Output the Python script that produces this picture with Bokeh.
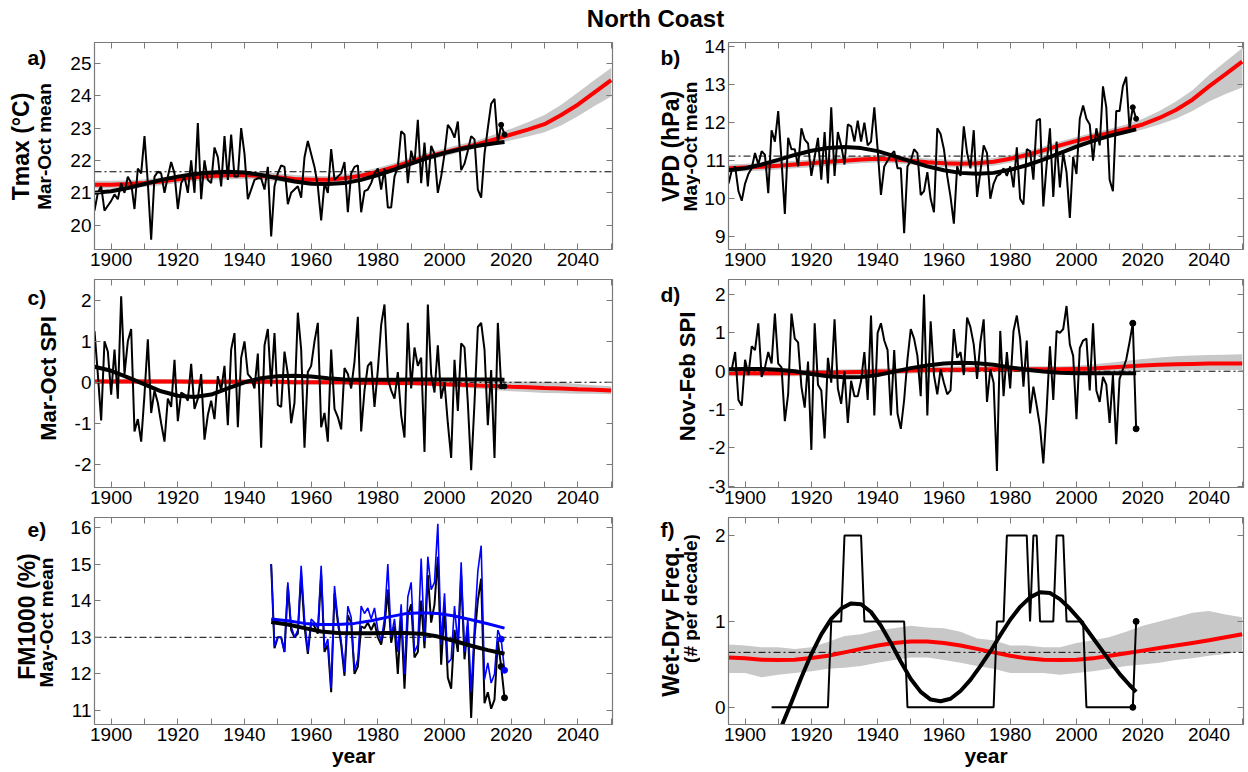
from bokeh.plotting import figure
from bokeh.models import Range1d, FixedTicker, LinearAxis, Span, Label
from bokeh.layouts import column, row
from bokeh.embed import file_html
from bokeh.resources import INLINE
import math

FONT = "Liberation Sans"
FRAME = "#7a7a7a"
GREY = "#c8c8c8"
RED = "#ff0000"
BLUE = "#0000ff"

X_START, X_END = 1895, 2050.4
x_ticks = list(range(1900, 2051, 10))
x_tick_labels = {t: (str(t) if (t % 20 == 0 and t < 2050) else "") for t in x_ticks}

# ---------------- annual series ----------------
years = list(range(1895, 2019))
tmax = [20.45, 21.0, 21.2, 20.45, 20.6, 20.75, 20.95, 20.8, 21.3, 21.0,
        21.5, 21.3, 20.5, 21.75, 21.6, 22.75, 21.3, 19.55, 21.5, 21.65,
        21.6, 21.0, 21.5, 21.95, 21.6, 20.5, 21.3, 21.5, 21.0, 22.0,
        21.0, 23.15, 20.8, 22.0, 21.4, 21.3, 22.4, 22.1, 21.2, 22.75,
        21.4, 22.8, 21.5, 21.5, 23.0, 22.2, 20.8, 21.1, 21.4, 21.45,
        21.45, 21.1, 21.8, 19.65, 21.2, 21.6, 21.85, 21.8, 20.65, 21.0,
        21.1, 21.2, 20.85, 22.1, 22.6, 22.2, 21.8, 21.2, 20.15, 21.3,
        21.0, 22.35, 21.4, 21.5, 21.6, 21.95, 20.4, 21.6, 21.8, 21.85,
        20.4, 21.05, 21.1, 21.3, 21.6, 21.75, 21.1, 21.75, 20.55, 20.55,
        21.5, 21.8, 22.9, 22.8, 21.3, 22.3, 21.9, 23.25, 21.3, 22.55,
        21.2, 22.45, 22.2, 21.0, 21.5, 22.2, 23.1, 22.95, 22.7, 23.2,
        21.7, 21.9, 22.3, 22.75, 22.65, 21.1, 20.85, 22.2, 23.0, 23.75,
        23.9, 22.55, 23.1, 22.8]
vpd = [10.4, 10.75, 10.85, 10.2, 9.95, 10.4, 10.65, 10.8, 11.2, 10.9,
       11.25, 11.15, 10.15, 11.8, 11.5, 12.3, 11.0, 9.6, 11.6, 11.3,
       11.3, 10.85, 11.85, 11.55, 11.45, 10.6, 11.1, 11.6, 10.5, 11.75,
       10.4, 12.4, 10.6, 11.75, 11.4, 10.9, 11.95, 11.9, 11.5, 12.05,
       11.5, 12.0, 11.4, 11.5, 12.4, 11.3, 10.1, 10.85, 11.0, 11.15,
       11.25, 10.8, 10.8, 9.1, 10.85, 11.0, 11.3, 11.2, 10.1, 10.2,
       10.7, 10.0, 9.65, 11.85, 11.7, 11.3, 10.6, 10.05, 9.35, 10.85,
       10.6, 11.9, 11.2, 10.8, 11.8, 10.05, 10.7, 11.4, 11.2, 10.0,
       10.4, 10.6, 10.65, 10.8, 10.6, 10.85, 10.3, 11.35, 10.0, 9.85,
       11.3, 11.25, 10.5, 12.05, 12.1, 9.8, 10.9, 11.85, 10.05, 11.5,
       10.3, 11.2, 10.7, 9.5, 11.1, 10.65, 12.1, 12.45, 12.1, 11.95,
       11.0, 11.85, 11.4, 12.95, 12.4, 10.5, 10.2, 12.3, 12.3, 12.95,
       13.2, 11.85, 12.4, 12.1]
spi_maroct = [1.25, 0.2, -0.93, 1.0, 0.75, -0.3, 0.8, -0.4, 2.1, 0.2,
              1.0, 1.3, -1.2, -0.9, -1.45, -0.3, 1.05, -0.75, -0.2, -0.5,
              -1.0, -1.45, -0.4, -0.6, 0.55, -0.95, -0.25, -0.3, -0.45, 0.45,
              -0.65, -0.4, 0.2, -1.4, -0.8, -0.45, -0.9, 0.15, -0.2, 0.4,
              -1.05, 0.8, 1.2, -1.1, 0.6, 1.0, 0.2, 0.1, -0.15, 0.7,
              -1.6, 0.9, 1.3, -0.1, 1.2, -0.55, -0.6, 0.75, 0.2, -1.0,
              -0.5, 1.7, 0.8, -1.6, 0.25, 0.4, 1.0, 1.45, -1.1, -0.75,
              -1.45, 0.8, -0.65, -0.85, -1.15, 0.35, 0.2, -0.15, 0.5, 1.6,
              -1.2, -0.2, 0.4, 0.5, -0.6, 0.3, 1.4, 1.9, 0.1, -0.2,
              -0.4, 0.25, -0.8, -1.35, 1.45, -0.15, 0.85, 0.4, 0.6, -1.7,
              1.9, 0.2, -0.25, 0.9, -0.4, 0.0, -1.0, -1.85, 0.55, -0.7,
              0.95, 0.85, -0.5, -2.15, -0.5, 1.35, 1.45, 0.8, -1.05, 0.3,
              -1.85, 1.45, -0.1, -0.1]
spi_novfeb = [0.0, 0.05, 0.5, -0.75, -0.9, 0.3, -0.1, 0.65, 0.55, 1.25,
              -0.15, 0.1, 0.5, 0.2, 1.5, 0.2, 0.1, -1.3, -0.6, 1.5,
              0.85, 0.75, -0.4, -0.95, 0.25, -2.05, 1.25, -0.35, -0.5, -1.75,
              0.35, -0.3, 1.35, -0.45, -0.85, 0.0, -1.35, -0.25, -0.65, -0.65,
              -0.25, 0.5, -0.75, 1.45, -1.15, 1.0, 1.25, 0.8, 0.55, -1.15,
              0.55, -1.1, -1.5, -0.75, 0.3, 1.1, 0.85, 0.4, -0.65, 2.0,
              -1.15, 1.3, -0.1, -0.6, 0.05, -0.3, -0.6, -0.5, 1.1, 0.35,
              0.5, -0.1, 1.4, 1.15, 0.7, -0.2, 0.75, 1.35, -0.8, 0.05,
              -0.3, -2.6, 1.05, -0.65, 0.5, -0.45, 1.05, 1.45, 0.85, -0.4,
              0.8, -1.1, -0.4, -0.9, -1.45, -2.4, -1.0, 0.65, -0.75, 1.05,
              1.0, 1.1, 1.7, 0.7, 0.4, -1.25, 0.6, 0.8, 0.85, -0.5,
              1.25, -0.5, -0.8, -0.15, -0.35, -1.35, -0.1, -1.9, -0.2, 0.05,
              0.3, 0.75, 1.25, -1.5]

fm_years = list(range(1948, 2019))
fm1000_black = [15.0, 12.7, 13.0, 13.0, 12.6, 14.4, 13.2, 13.0, 13.1, 14.7,
                13.3, 12.55, 13.4, 13.3, 13.1, 14.7, 12.6, 12.8, 11.5, 14.2,
                13.4, 12.8, 11.95, 13.6, 13.4, 12.0, 12.2, 13.3, 13.25, 13.4,
                13.2, 13.4, 13.0, 12.8, 13.3, 14.3, 12.85, 13.3, 12.0, 13.6,
                11.6, 13.6, 13.9, 12.45, 12.6, 14.0, 12.7, 14.7, 13.4, 13.9,
                15.2, 12.25, 13.8, 11.9, 11.6, 13.2, 12.6, 14.7, 12.4, 13.3,
                10.8, 13.0, 14.0, 14.6, 11.2, 11.5, 11.05, 11.3, 12.9, 12.2,
                11.35]
fm1000_blue = [15.0, 12.75, 13.0, 13.0, 12.6, 14.5, 13.3, 13.0, 13.2, 14.95,
               13.5, 12.6, 13.5, 13.4, 13.25, 14.95, 12.7, 12.95, 11.6, 14.4,
               13.5, 12.9, 12.05, 13.85, 13.55, 12.1, 12.4, 13.85, 13.65, 13.8,
               13.5, 13.8, 13.2, 12.9, 13.5, 15.0, 13.0, 13.5, 12.6, 13.9,
               12.0, 14.1, 14.5, 12.6, 12.8, 15.15, 12.9, 15.2, 14.3, 14.5,
               16.1, 12.8, 14.2, 12.3, 12.4, 13.85, 12.8, 15.05, 12.6, 13.5,
               11.5, 13.3, 14.8, 15.5, 11.85, 12.3, 11.75, 12.0, 13.2, 12.95,
               12.1]

wd_years = list(range(1908, 2019))
wetdry = [0, 0, 0, 0, 0, 0, 0, 0, 0, 0, 0, 0, 0, 0, 0, 0, 0, 0,
          1, 1, 1, 1,
          2, 2, 2, 2, 2, 2,
          1, 1, 1, 1, 1, 1, 1, 1, 1, 1, 1, 1, 1,
          0, 0, 0, 0, 0, 0, 0, 0, 0, 0, 0, 0, 0, 0, 0, 0, 0, 0, 0, 0, 0, 0, 0, 0, 0, 0, 0,
          1, 1, 1,
          2, 2, 2, 2, 2, 2, 2,
          1,
          2, 2,
          1, 1, 1, 1, 1,
          2, 2, 2,
          1, 1, 1, 1, 1, 1,
          0, 0, 0, 0, 0, 0, 0, 0, 0, 0, 0, 0, 0, 0, 0,
          1]

# ---------------- smoothed trends ----------------
trend_years = list(range(1895, 2016, 5)) + [2018]
tmax_trend = [21.0, 21.05, 21.15, 21.27, 21.4, 21.5, 21.58, 21.63, 21.65, 21.63, 21.55, 21.45, 21.35,
              21.28, 21.27, 21.3, 21.4, 21.55, 21.72, 21.9, 22.08, 22.23, 22.35, 22.45, 22.53, 22.57]
vpd_trend = [10.75, 10.8, 10.9, 11.02, 11.15, 11.26, 11.33, 11.36, 11.33, 11.25, 11.12, 10.98, 10.85,
             10.75, 10.68, 10.66, 10.68, 10.76, 10.88, 11.03, 11.2, 11.37, 11.52, 11.65, 11.76, 11.82]
spi_maroct_trend = [0.38, 0.28, 0.12, -0.05, -0.22, -0.33, -0.36, -0.3, -0.15, 0.0, 0.1, 0.15, 0.16,
                    0.14, 0.1, 0.07, 0.06, 0.06, 0.06, 0.07, 0.07, 0.07, 0.07, 0.07, 0.07, 0.06]
spi_novfeb_trend = [0.05, 0.06, 0.06, 0.04, 0.0, -0.07, -0.13, -0.16, -0.15, -0.1, -0.01, 0.08, 0.15,
                    0.2, 0.22, 0.21, 0.17, 0.1, 0.04, -0.01, -0.04, -0.05, -0.05, -0.05, -0.05, -0.05]

fm_trend_years = list(range(1948, 2019, 5))
fm_black_trend = [13.42, 13.35, 13.25, 13.16, 13.12, 13.11, 13.11, 13.12, 13.12, 13.1, 13.02, 12.9,
                  12.77, 12.65, 12.55]
fm_blue_trend = [13.5, 13.45, 13.38, 13.35, 13.35, 13.38, 13.45, 13.55, 13.64, 13.67, 13.65, 13.58,
                 13.48, 13.37, 13.25]

wd_trend_years = list(range(1908, 2017, 3)) + [2018]
wd_trend = [-0.48, -0.22, 0.06, 0.35, 0.62, 0.85, 1.03, 1.15, 1.21, 1.2, 1.11, 0.95, 0.75, 0.53,
            0.33, 0.18, 0.09, 0.07, 0.1, 0.19, 0.32, 0.48, 0.65, 0.84, 1.02, 1.17, 1.28, 1.34,
            1.33, 1.26, 1.15, 1.02, 0.86, 0.7, 0.54, 0.39, 0.26, 0.18]

# ---------------- model (red) trends and ranges, 1895-2050 ----------------
model_years = list(range(1895, 2051, 5))
tmax_model = [21.25, 21.25, 21.27, 21.3, 21.35, 21.42, 21.48, 21.52, 21.54, 21.55, 21.52, 21.48, 21.43,
              21.4, 21.4, 21.45, 21.53, 21.65, 21.8, 21.97, 22.12, 22.25, 22.38, 22.5, 22.65, 22.8,
              22.95, 23.12, 23.4, 23.72, 24.1, 24.48]
tmax_lo = [21.13, 21.13, 21.15, 21.18, 21.23, 21.3, 21.36, 21.4, 21.42, 21.43, 21.4, 21.36, 21.31,
           21.28, 21.28, 21.33, 21.41, 21.53, 21.68, 21.85, 22.0, 22.13, 22.26, 22.38, 22.5, 22.62,
           22.74, 22.87, 23.08, 23.36, 23.68, 23.97]
tmax_hi = [21.37, 21.37, 21.39, 21.42, 21.47, 21.54, 21.6, 21.64, 21.66, 21.67, 21.64, 21.6, 21.55,
           21.52, 21.52, 21.57, 21.65, 21.77, 21.92, 22.09, 22.24, 22.37, 22.5, 22.62, 22.8, 22.98,
           23.18, 23.4, 23.72, 24.1, 24.48, 24.85]
vpd_model = [10.8, 10.82, 10.84, 10.87, 10.9, 10.93, 10.97, 11.0, 11.03, 11.05, 11.03, 11.0, 10.96,
             10.93, 10.92, 10.93, 10.97, 11.05, 11.15, 11.27, 11.4, 11.52, 11.63, 11.73, 11.83, 11.95,
             12.12, 12.33, 12.6, 12.95, 13.27, 13.6]
vpd_lo = [10.7, 10.72, 10.74, 10.77, 10.8, 10.83, 10.87, 10.9, 10.93, 10.95, 10.93, 10.9, 10.86,
          10.83, 10.82, 10.83, 10.87, 10.95, 11.05, 11.17, 11.3, 11.42, 11.53, 11.63, 11.72, 11.82,
          11.95, 12.1, 12.3, 12.55, 12.75, 12.92]
vpd_hi = [10.9, 10.92, 10.94, 10.97, 11.0, 11.03, 11.07, 11.1, 11.13, 11.15, 11.13, 11.1, 11.06,
          11.03, 11.02, 11.03, 11.07, 11.15, 11.25, 11.37, 11.5, 11.62, 11.73, 11.83, 11.95, 12.1,
          12.3, 12.55, 12.85, 13.25, 13.6, 13.95]
spi_maroct_model = [0.02, 0.02, 0.02, 0.02, 0.02, 0.02, 0.01, 0.01, 0.01, 0.01, 0.01, 0.01, 0.0,
                    0.0, 0.0, 0.0, -0.01, -0.01, -0.02, -0.02, -0.03, -0.05, -0.06, -0.08, -0.09,
                    -0.11, -0.12, -0.14, -0.15, -0.17, -0.18, -0.2]
spi_maroct_lo = [-0.04, -0.04, -0.04, -0.04, -0.04, -0.04, -0.05, -0.05, -0.05, -0.05, -0.05, -0.05,
                 -0.06, -0.06, -0.06, -0.06, -0.07, -0.07, -0.08, -0.08, -0.09, -0.11, -0.13, -0.16,
                 -0.19, -0.22, -0.24, -0.26, -0.27, -0.28, -0.28, -0.29]
spi_maroct_hi = [0.08, 0.08, 0.08, 0.08, 0.08, 0.08, 0.07, 0.07, 0.07, 0.07, 0.07, 0.07, 0.06, 0.06,
                 0.06, 0.06, 0.05, 0.05, 0.04, 0.04, 0.03, 0.02, 0.01, 0.0, 0.01, 0.02, 0.02, 0.01,
                 0.0, -0.04, -0.07, -0.1]
spi_novfeb_model = [-0.05, -0.05, -0.05, -0.05, -0.05, -0.04, -0.04, -0.03, -0.02, -0.01, 0.0, 0.02,
                    0.03, 0.04, 0.04, 0.05, 0.05, 0.05, 0.05, 0.05, 0.05, 0.06, 0.07, 0.1, 0.12, 0.15,
                    0.17, 0.18, 0.19, 0.2, 0.2, 0.2]
spi_novfeb_lo = [-0.13, -0.13, -0.13, -0.13, -0.13, -0.12, -0.12, -0.11, -0.1, -0.09, -0.08, -0.06,
                 -0.05, -0.04, -0.04, -0.03, -0.03, -0.03, -0.03, -0.03, -0.03, -0.02, -0.01, 0.0,
                 0.01, 0.02, 0.03, 0.03, 0.03, 0.03, 0.03, 0.03]
spi_novfeb_hi = [0.03, 0.03, 0.03, 0.03, 0.03, 0.04, 0.04, 0.05, 0.06, 0.07, 0.08, 0.1, 0.11, 0.12,
                 0.12, 0.13, 0.13, 0.13, 0.13, 0.13, 0.13, 0.15, 0.18, 0.22, 0.27, 0.32, 0.36, 0.39,
                 0.41, 0.42, 0.43, 0.44]
wd_model = [0.58, 0.57, 0.555, 0.55, 0.555, 0.575, 0.6, 0.64, 0.68, 0.72, 0.75, 0.765, 0.765, 0.75,
            0.72, 0.68, 0.64, 0.6, 0.57, 0.555, 0.55, 0.555, 0.57, 0.6, 0.63, 0.66, 0.69, 0.72, 0.75,
            0.78, 0.815, 0.85]
wd_lo = [0.40, 0.40, 0.35, 0.38, 0.40, 0.42, 0.45, 0.46, 0.48, 0.52, 0.55, 0.58, 0.58, 0.55, 0.52,
         0.48, 0.45, 0.40, 0.40, 0.40, 0.38, 0.40, 0.42, 0.45, 0.48, 0.50, 0.52, 0.55, 0.57, 0.60,
         0.62, 0.65]
wd_hi = [0.73, 0.72, 0.70, 0.70, 0.68, 0.70, 0.76, 0.83, 0.85, 0.90, 0.92, 0.95, 0.93, 0.92, 0.88,
         0.80, 0.78, 0.72, 0.72, 0.70, 0.70, 0.75, 0.78, 0.82, 0.88, 0.95, 1.0, 1.05, 1.1, 1.12,
         1.08, 1.05]

# reference (mean) levels
tmax_ref, vpd_ref, spi_maroct_ref, spi_novfeb_ref, fm_ref, wd_ref = 21.65, 11.12, 0.0, 0.0, 13.0, 0.64

# axis settings
tmax_range, tmax_ticks = (19.25, 25.64), [20, 21, 22, 23, 24, 25]
vpd_range, vpd_ticks = (8.67, 14.1), [9, 10, 11, 12, 13, 14]
spi1_range, spi1_ticks = (-2.57, 2.51), [-2, -1, 0, 1, 2]
spi2_range, spi2_ticks = (-3.03, 2.39), [-3, -2, -1, 0, 1, 2]
fm_range, fm_ticks = (10.62, 16.27), [11, 12, 13, 14, 15, 16]
wd_range, wd_ticks = (-0.2, 2.21), [0, 1, 2]

OUTER = "23px"
INNER = "19px"
SINGLE = "22px"


def panel(width, height, bl, br, bt, bb, yr, yticks, xlabel=None):
    p = figure(width=width, height=height, x_range=Range1d(X_START, X_END),
               y_range=Range1d(*yr), toolbar_location=None, output_backend="svg",
               min_border_left=bl, min_border_right=br, min_border_top=bt, min_border_bottom=bb,
               background_fill_color="white", border_fill_color="white")
    p.grid.visible = False
    p.outline_line_color = FRAME
    p.outline_line_width = 1.2
    for ax in p.xaxis:
        ax.ticker = FixedTicker(ticks=x_ticks, minor_ticks=[])
        ax.major_label_overrides = x_tick_labels
    for ax in p.yaxis:
        ax.ticker = FixedTicker(ticks=yticks, minor_ticks=[])
        ax.major_label_overrides = {t: str(t) for t in yticks}
    for ax in list(p.xaxis) + list(p.yaxis):
        ax.major_label_text_font = FONT
        ax.major_label_text_font_size = "19px"
        ax.major_label_text_color = "black"
        ax.major_tick_in = 6
        ax.major_tick_out = 0
        ax.major_tick_line_color = FRAME
        ax.axis_line_color = FRAME
        ax.major_label_standoff = 3
    if xlabel:
        p.xaxis.axis_label = xlabel
        p.xaxis.axis_label_text_font = FONT
        p.xaxis.axis_label_text_font_style = "bold"
        p.xaxis.axis_label_text_color = "black"
        p.xaxis.axis_label_text_font_size = "21px"
        p.xaxis.axis_label_standoff = 0
    top = LinearAxis(ticker=FixedTicker(ticks=x_ticks, minor_ticks=[]),
                     major_label_overrides={t: "" for t in x_ticks},
                     major_label_text_font_size="0px", major_label_standoff=0,
                     major_tick_in=6, major_tick_out=0, major_tick_line_color=FRAME,
                     axis_line_color=FRAME)
    p.add_layout(top, "above")
    right = LinearAxis(ticker=FixedTicker(ticks=yticks, minor_ticks=[]),
                       major_label_overrides={t: "" for t in yticks},
                       major_label_text_font_size="0px", major_label_standoff=0,
                       major_tick_in=6, major_tick_out=0, major_tick_line_color=FRAME,
                       axis_line_color=FRAME)
    p.add_layout(right, "right")
    return p


def strip(width, height, frame_h, letter, letter_x, letter_top, labels):
    """Narrow text-only plot beside a panel. Its plotting area is aligned by the row
    layout with the panel's frame, so y runs 0..frame_h in pixels from the frame bottom.
    labels: list of (text, x_center, y_center, font_size)."""
    s = figure(width=width, height=height, x_range=Range1d(0, width), y_range=Range1d(0, frame_h),
               toolbar_location=None, output_backend="svg", min_border=0,
               x_axis_location=None, y_axis_location=None)
    s.grid.visible = False
    s.outline_line_color = None
    s.add_layout(Label(x=letter_x, y=letter_top, text=letter, text_font=FONT, text_font_size="21px",
                       text_font_style="bold", text_color="black", text_align="left",
                       text_baseline="top"))
    for txt, xc, yc, fs in labels:
        s.add_layout(Label(x=xc, y=yc, text=txt, angle=math.pi / 2, text_font=FONT,
                           text_font_size=fs, text_font_style="bold", text_color="black",
                           text_align="center", text_baseline="middle"))
    return s


def add_model(p, lo, hi, mid, ref):
    p.varea(x=model_years, y1=lo, y2=hi, fill_color=GREY, level="underlay")
    p.add_layout(Span(location=ref, dimension="width", line_color="black", line_width=1,
                      line_dash="7 3 2 3", level="underlay"))
    p.line(model_years, mid, line_color=RED, line_width=4)


SW = 60
LW, RW = 580, 548
H1, H2, H3 = 242, 238, 258
F1, F2, F3 = 207, 208, 207

# ---- row 1 ----
sa = strip(SW, H1, F1, "a)", 27, 204, [("Tmax (°C)", 20, 103, OUTER), ("Mar-Oct mean", 44, 103, INNER)])
pa = panel(LW, H1, 34, 28, 8, 27, tmax_range, tmax_ticks)
add_model(pa, tmax_lo, tmax_hi, tmax_model, tmax_ref)
pa.line(years, tmax, line_color="black", line_width=2)
pa.line(trend_years, tmax_trend, line_color="black", line_width=4)
pa.scatter(years[-2:], tmax[-2:], size=5, color="black")

sb = strip(SW, H1, F1, "b)", 20, 204, [("VPD (hPa)", 30, 103, OUTER), ("May-Oct mean", 50, 103, INNER)])
pb = panel(RW, H1, 28, 5, 8, 27, vpd_range, vpd_ticks)
add_model(pb, vpd_lo, vpd_hi, vpd_model, vpd_ref)
pb.line(years, vpd, line_color="black", line_width=2)
pb.line(trend_years, vpd_trend, line_color="black", line_width=4)
pb.scatter(years[-2:], vpd[-2:], size=5, color="black")

# ---- row 2 ----
sc = strip(SW, H2, F2, "c)", 27, 202, [("Mar-Oct SPI", 48, 109, SINGLE)])
pc = panel(LW, H2, 34, 28, 3, 27, spi1_range, spi1_ticks)
add_model(pc, spi_maroct_lo, spi_maroct_hi, spi_maroct_model, spi_maroct_ref)
pc.line(years, spi_maroct, line_color="black", line_width=2)
pc.line(trend_years, spi_maroct_trend, line_color="black", line_width=4)
pc.scatter(years[-2:], spi_maroct[-2:], size=5, color="black")

sd = strip(SW, H2, F2, "d)", 20, 205, [("Nov-Feb SPI", 47, 111, SINGLE)])
pd_ = panel(RW, H2, 28, 5, 3, 27, spi2_range, spi2_ticks)
add_model(pd_, spi_novfeb_lo, spi_novfeb_hi, spi_novfeb_model, spi_novfeb_ref)
pd_.line(years, spi_novfeb, line_color="black", line_width=2)
pd_.line(trend_years, spi_novfeb_trend, line_color="black", line_width=4)
pd_.scatter(years[-2:], spi_novfeb[-2:], size=6, color="black")

# ---- row 3 ----
se = strip(SW, H3, F3, "e)", 27, 207, [("FM1000 (%)", 26, 108, OUTER), ("May-Oct mean", 46, 102, INNER)])
pe = panel(LW, H3, 34, 28, 3, 48, fm_range, fm_ticks, xlabel="year")
pe.add_layout(Span(location=fm_ref, dimension="width", line_color="black", line_width=1,
                   line_dash="7 3 2 3", level="underlay"))
pe.line(fm_years, fm1000_black, line_color="black", line_width=2)
pe.line(fm_years, fm1000_blue, line_color=BLUE, line_width=1.6)
pe.line(fm_trend_years, fm_black_trend, line_color="black", line_width=4)
pe.line(fm_trend_years, fm_blue_trend, line_color=BLUE, line_width=3)
pe.scatter(fm_years[-2:], fm1000_black[-2:], size=6, color="black")
pe.scatter(fm_years[-2:], fm1000_blue[-2:], size=6, color=BLUE)

sf = strip(SW, H3, F3, "f)", 20, 207, [("Wet-Dry Freq.", 30, 103, OUTER), ("(# per decade)", 50, 126, INNER)])
pf = panel(RW, H3, 28, 5, 3, 48, wd_range, wd_ticks, xlabel="year")
add_model(pf, wd_lo, wd_hi, wd_model, wd_ref)
pf.line(wd_years, wetdry, line_color="black", line_width=2)
pf.line(wd_trend_years, wd_trend, line_color="black", line_width=4)
pf.scatter(wd_years[-2:], wetdry[-2:], size=6, color="black")

# page title
tf = figure(width=1248, height=34, x_range=Range1d(0, 1248), y_range=Range1d(0, 34),
            toolbar_location=None, output_backend="svg", min_border=0,
            x_axis_location=None, y_axis_location=None)
tf.grid.visible = False
tf.outline_line_color = None
tf.add_layout(Label(x=655, y=16, text="North Coast", text_align="center", text_baseline="middle",
                    text_font=FONT, text_font_size="24px", text_font_style="bold", text_color="black"))

layout = column(tf, row(sa, pa, sb, pb), row(sc, pc, sd, pd_), row(se, pe, sf, pf))
open("out.html", "w").write(file_html(layout, INLINE))
